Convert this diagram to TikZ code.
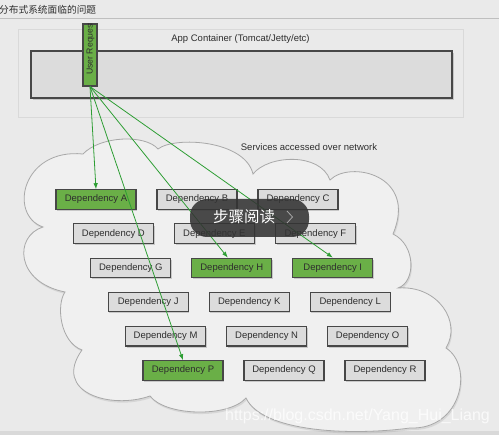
\documentclass[tikz,border=0pt]{standalone}
\usepackage{fontspec}
\setmainfont{Liberation Sans}
\newfontfamily\cjk{Noto Sans CJK SC}
\usepackage{tikz}
\usetikzlibrary{arrows.meta,shadows}

\definecolor{bggray}{HTML}{EAEAEA}
\definecolor{cloudfill}{HTML}{F0F0F0}
\definecolor{cloudedge}{HTML}{A8A8A8}
\definecolor{boxfill}{HTML}{DCDCDC}
\definecolor{boxedge}{HTML}{474747}
\definecolor{depgreen}{HTML}{6AAF47}
\definecolor{linkgreen}{HTML}{2E9E34}
\definecolor{textgray}{HTML}{2E2E2E}

\tikzset{
  dep/.style={draw=boxedge, line width=1.1pt, minimum width=80pt, minimum height=19.5pt,
    inner sep=0pt, font=\fontsize{9.5}{11}\selectfont, text=textgray,
    drop shadow={shadow xshift=1.2pt, shadow yshift=-1.6pt, opacity=.35}},
  depoff/.style={dep, fill=boxfill},
  depon/.style={dep, fill=depgreen},
  link/.style={draw=linkgreen, line width=.8pt, -{Latex[length=6pt,width=4.5pt]}},
  label/.style={font=\fontsize{9.5}{11}\selectfont, text=textgray, inner sep=0pt},
}

\begin{document}
\begin{tikzpicture}[x=1pt,y=-1pt]
        \fill[bggray] (0,0) rectangle (499,435);
        \useasboundingbox (0,0) rectangle (499,435);
        \fill[black!15] (0,431.5) rectangle (499,435);
        % page title
        \node[anchor=west, inner sep=0pt, text=textgray, font=\cjk\fontsize{9.7}{11}\selectfont] (title) at (-1,9.5) {分布式系统面临的问题};
        \draw[black!25, line width=.8pt] (0,18) -- (499,18);
        % app container
        \node[draw=black!15, line width=.8pt, minimum width=445pt, minimum height=88pt] (appbox) at (240.5,73) {};
        \node[label] (applabel) at (240.5,39) {App Container (Tomcat/Jetty/etc)};
        \node[draw=boxedge, fill=boxfill, line width=1.1pt, minimum width=421pt, minimum height=47pt,
              drop shadow={shadow xshift=1.5pt, shadow yshift=-2pt, opacity=.35}] (server) at (241.5,74.5) {};
        \node[draw=boxedge, fill=depgreen, line width=1.1pt, minimum width=14pt, minimum height=62pt, inner sep=0pt] (req) at (90,55) {};
        \begin{scope}
          \clip (req.south west) rectangle (req.north east);
          \node[anchor=west, rotate=90, inner sep=0pt, text=textgray, font=\fontsize{8.7}{10}\selectfont] (reqlabel) at (90.5,75) {User Request};
        \end{scope}
        % network cloud
        \draw[fill=cloudfill, draw=cloudedge, line width=.8pt,
              drop shadow={shadow xshift=1pt, shadow yshift=-2pt, opacity=.18}]
          (83,154) .. controls (100,136) and (145,134) .. (158,149)
          .. controls (175,136) and (245,140) .. (253,174)
          .. controls (268,155) and (320,152) .. (330,180)
          .. controls (350,160) and (418,175) .. (393,234)
          .. controls (416,245) and (416,282) .. (398,288)
          .. controls (438,285) and (462,322) .. (446,348)
          .. controls (474,366) and (462,430) .. (410,428)
          .. controls (350,436) and (262,432) .. (246,398)
          .. controls (228,418) and (165,416) .. (150,396)
          .. controls (110,410) and (52,392) .. (82,350)
          .. controls (60,342) and (56,305) .. (65,292)
          .. controls (15,282) and (14,236) .. (43,227)
          .. controls (8,215) and (22,148) .. (83,154) -- cycle;
        \node[label] (svclabel) at (309,147) {Services accessed over network};
        \foreach \Name/\Row/\Col/\Look in {A/0/0/depon, B/0/1/depoff, C/0/2/depoff,
                                           D/1/0/depoff, E/1/1/depoff, F/1/2/depoff,
                                           G/2/0/depoff, H/2/1/depon, I/2/2/depon,
                                           J/3/0/depoff, K/3/1/depoff, L/3/2/depoff,
                                           M/4/0/depoff, N/4/1/depoff, O/4/2/depoff,
                                           P/5/0/depon, Q/5/1/depoff, R/5/2/depoff}
        \node[\Look] (dep\Name) at ({96+17.4*\Row+101*\Col},{199.5+34.2*\Row}) {Dependency \Name};
        % requests going out
        \draw[link] (req.south) -- (depA.north);
        \draw[link] (req.south) -- (depP.north);
        \draw[link] (req.south) -- ([xshift=-4pt]depH.north);
        \draw[link] (req.south) -- (depI.north);
        % overlay
        \node[fill=black!80, fill opacity=.88, rounded corners=17pt, minimum width=119pt, minimum height=38pt] (tip) at (249.5,218) {};
        \node[text=white, inner sep=0pt, font=\cjk\fontsize{15.5}{17}\selectfont] (tiptext) at (244,217) {步骤阅读};
        \draw[black!35, line width=.8pt] (287,211) -- (292.5,217) -- (287,223);
        \node[text=white, opacity=.75, inner sep=0pt, font=\fontsize{16}{18}\selectfont] (url) at (357.5,416) {https://blog.csdn.net/Yang\_Hui\_Liang};
\end{tikzpicture}
\end{document}
